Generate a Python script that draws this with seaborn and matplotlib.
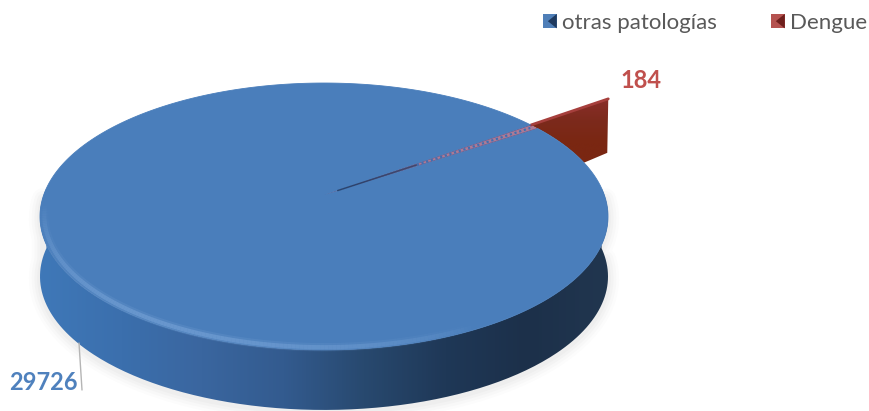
import numpy as np
import matplotlib
matplotlib.use("Agg")
import matplotlib.pyplot as plt
from matplotlib.collections import LineCollection
from matplotlib.legend_handler import HandlerBase
from matplotlib.patches import PathPatch, Patch, Polygon, Rectangle
from matplotlib.path import Path
import seaborn as sns

# Cases per diagnosis
categories = ["otras patologías", "Dengue"]
cases = [29726, 184]
slice_colors = ["#4a7ebb", "#a0413f"]
label_colors = ["#4f81bd", "#c0504d"]
key_colors = [("#4f7fb8", "#1f3a5f"), ("#b5524f", "#6e1f1c")]

sns.set_theme(style="white")
plt.rcParams["font.family"] = ["Lato", "DejaVu Sans"]

W, H = 869, 411
fig = plt.figure(figsize=(W / 100, H / 100), dpi=100, facecolor="white")
ax = fig.add_axes([0, 0, 1, 1])
ax.set_xlim(0, W)
ax.set_ylim(H, 0)
ax.axis("off")

# Perspective view of the pie's unit disk
CX, CY, SX, SY, K = 324.0, 195.0, 280.3, 130.0, 0.161
DEPTH = 60.0


def project(x, y):
    w = 1 + K * y
    return CX + SX * x / w, CY - SY * y / w


def rim(theta_deg, r=1.0):
    t = np.radians(theta_deg)
    return np.column_stack(project(r * np.cos(t), r * np.sin(t)))


def wedge_polygon(theta1, theta2):
    arc = np.radians(np.linspace(theta1, theta2, 720))
    xs = np.concatenate(([0.0], np.cos(arc)))
    ys = np.concatenate(([0.0], np.sin(arc)))
    return np.column_stack(project(xs, ys))


def shaded_fill(points, cmap, extent, direction, zorder):
    """Fill a polygon with a linear colour ramp."""
    ramp = np.linspace(0, 1, 512)
    ramp = ramp.reshape(1, -1) if direction == "x" else ramp.reshape(-1, 1)
    img = ax.imshow(ramp, cmap=cmap, extent=extent, aspect="auto", zorder=zorder)
    ax.set_xlim(0, W)
    ax.set_ylim(H, 0)
    clip = PathPatch(Path(np.vstack((points, points[:1]))), transform=ax.transData, fc="none", ec="none")
    ax.add_patch(clip)
    img.set_clip_path(clip)


# Slice angles come straight from the counts
total = sum(cases)
dengue_span = 360 * cases[1] / total
dengue_mid = 35.0
d1, d2 = dengue_mid - dengue_span / 2, dengue_mid + dengue_span / 2

# Soft shadow around the extruded body
body = np.vstack((rim(np.linspace(-1, -179, 200)) + [0, DEPTH], rim(np.linspace(181, 359, 200))))
for lw, a in zip([16, 12, 8, 4], [0.025, 0.03, 0.035, 0.04]):
    ax.plot(*(body + [0, 2]).T, color="#808080", lw=lw, alpha=a, zorder=1,
            solid_capstyle="round", solid_joinstyle="round")

# Exploded Dengue slice sticking out behind the disk
outer = rim(d2, 1.425)[0]
red_outline = np.vstack((
    rim(np.linspace(d2, 15.0, 30)),
    outer + [-1, DEPTH - 6],
    outer,
))
red_cmap = sns.blend_palette(["#8a2e2a", "#7c2a1c", "#7a2712", "#7a2712"], n_colors=128, as_cmap=True)
shaded_fill(red_outline, red_cmap, (525, 612, 165, 98), "y", 2)
ax.plot(*np.vstack((rim(d2)[0], outer)).T, color="#a63f3c", lw=2.0, zorder=2.5)

# Side wall of the pie with a left-to-right shading
wall_top = rim(np.linspace(3, -183, 260))
wall_pts = np.vstack((wall_top, (wall_top + [0, DEPTH])[::-1]))
wall_cmap = sns.blend_palette(
    ["#3f78b8", "#3b6fad", "#3a669f", "#335b8f", "#28496f", "#1f3857", "#1c304a", "#21364f"],
    n_colors=256, as_cmap=True,
)
shaded_fill(wall_pts, wall_cmap, (40, 608, H, 0), "x", 3)

# Top surface: one polygon per slice
ax.fill(*wedge_polygon(d2, d1 + 360).T, color=slice_colors[0], lw=0.6, ec=slice_colors[0], zorder=4)
ax.fill(*wedge_polygon(d1, d2).T, color="#7f3560", alpha=0.65, lw=0, zorder=5)
ax.plot(*rim(dengue_mid, np.array([0.42, 0.98])).T, color="#3f6fb0", lw=1.6,
        ls=(0, (1, 1.2)), zorder=5.2)
ax.plot(*rim(dengue_mid, np.array([0.06, 0.42])).T, color="#1f3d66", lw=1.1, alpha=0.8, zorder=5)

# Bevel highlight along the front-left edge of the disk
pts = rim(np.linspace(-176, -62, 160), 0.985)
segs = np.stack((pts[:-1], pts[1:]), axis=1)
fade = np.sin(np.linspace(0, np.pi, len(segs))) ** 0.7
for width, strength in [(6, 0.16), (3, 0.42)]:
    rgba = np.tile(matplotlib.colors.to_rgba("#86afe0"), (len(segs), 1))
    rgba[:, 3] = strength * fade
    ax.add_collection(LineCollection(segs, colors=rgba, linewidths=width, zorder=6))

# Value labels and leader line
ax.text(640.5, 81, str(cases[1]), color=label_colors[1], fontsize=17, fontweight="bold",
        ha="center", va="center", zorder=7)
ax.text(43.5, 382, str(cases[0]), color=label_colors[0], fontsize=17, fontweight="bold",
        ha="center", va="center", zorder=7)
ax.plot([79, 82], [343, 390], color="#b5b5b5", lw=1, zorder=7)


class BevelKey(HandlerBase):
    """Square legend key with a darker triangle on its right side."""

    def create_artists(self, legend, orig_handle, xdescent, ydescent, width, height, fontsize, trans):
        light, dark = orig_handle.colors
        x0, y0 = -xdescent, -ydescent
        square = Rectangle((x0, y0), width, height, fc=light, ec="none", transform=trans)
        tri = Polygon([(x0 + width, y0), (x0 + width, y0 + height), (x0 + width * 0.35, y0 + height / 2)],
                      closed=True, fc=dark, ec="none", transform=trans)
        return [square, tri]


class KeyPatch(Patch):
    def __init__(self, colors, label):
        super().__init__(label=label)
        self.colors = colors


# Legend along the top right
handles = [KeyPatch(c, n) for c, n in zip(key_colors, categories)]
ax.legend(handles=handles, handler_map={KeyPatch: BevelKey()}, ncol=2, loc="upper left",
          bbox_to_anchor=(543 / W, 1 - 13 / H), frameon=False, fontsize=16, labelcolor="#595959",
          handlelength=0.62, handleheight=0.62, handletextpad=0.25, columnspacing=2.42,
          borderpad=0, borderaxespad=0)

fig.savefig("out.png", dpi=100, facecolor="white")
